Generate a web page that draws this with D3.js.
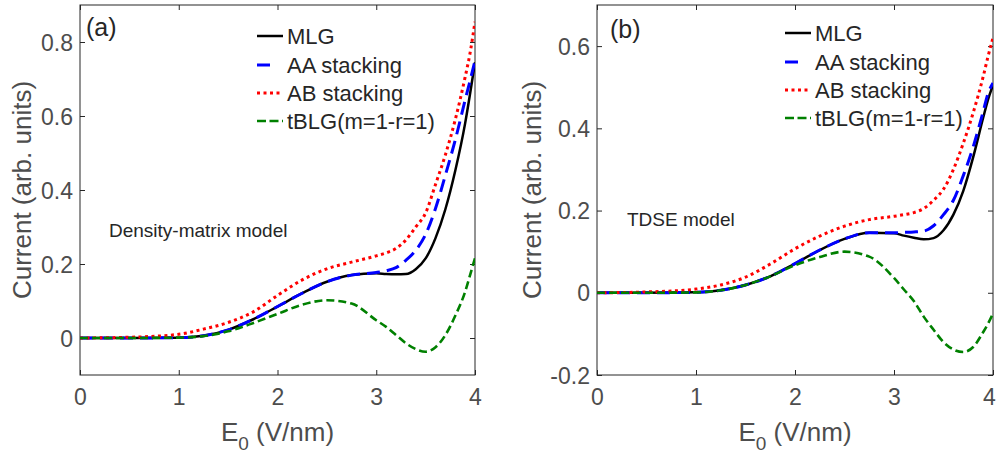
<!DOCTYPE html>
<html>
<head>
<meta charset="utf-8">
<script src="https://cdn.jsdelivr.net/npm/d3@7"></script>
<style>
  html, body { margin: 0; padding: 0; background: #fff; }
  svg { display: block; font-family: "Liberation Sans", Arial, sans-serif; }
</style>
</head>
<body>
<svg id="chart" width="998" height="458"></svg>
<script>
// ---- data ----
const E = [0, 0.5, 1.0, 1.25, 1.5, 1.75, 2.0, 2.25, 2.5, 2.75, 3.0, 3.1, 3.2, 3.3, 3.4, 3.5, 3.6, 3.7, 3.8, 3.9, 3.95, 4.0];

// panel (a) Density-matrix model
const mlgA  = [0, 0, 0.001, 0.006, 0.022, 0.05, 0.085, 0.121, 0.152, 0.170, 0.175, 0.173, 0.172, 0.173, 0.186, 0.215, 0.270, 0.348, 0.452, 0.580, 0.660, 0.745];
const aaA   = [0, 0, 0.001, 0.006, 0.022, 0.05, 0.085, 0.121, 0.152, 0.170, 0.177, 0.182, 0.190, 0.210, 0.237, 0.280, 0.350, 0.440, 0.535, 0.643, 0.695, 0.750];
const abA   = [0, 0.002, 0.010, 0.024, 0.042, 0.070, 0.115, 0.157, 0.187, 0.205, 0.222, 0.230, 0.242, 0.265, 0.300, 0.338, 0.415, 0.495, 0.590, 0.705, 0.770, 0.855];
const tblgA = [0, 0, 0.001, 0.005, 0.018, 0.040, 0.065, 0.090, 0.102, 0.093, 0.048, 0.030, 0.008, -0.014, -0.030, -0.037, -0.025, 0.008, 0.060, 0.125, 0.170, 0.216];

// panel (b) TDSE model
const mlgB  = [0, 0, 0.001, 0.006, 0.019, 0.040, 0.071, 0.104, 0.131, 0.146, 0.145, 0.139, 0.134, 0.130, 0.133, 0.152, 0.190, 0.248, 0.330, 0.425, 0.470, 0.505];
const aaB   = [0, 0, 0.001, 0.006, 0.019, 0.040, 0.071, 0.104, 0.131, 0.146, 0.146, 0.147, 0.148, 0.150, 0.163, 0.190, 0.225, 0.285, 0.355, 0.440, 0.485, 0.510];
const abB   = [0, 0.002, 0.009, 0.019, 0.038, 0.070, 0.107, 0.138, 0.162, 0.178, 0.186, 0.190, 0.195, 0.205, 0.225, 0.252, 0.300, 0.364, 0.438, 0.525, 0.575, 0.620];
const tblgB = [0, 0, 0.001, 0.006, 0.019, 0.040, 0.067, 0.087, 0.100, 0.088, 0.036, 0.008, -0.020, -0.058, -0.090, -0.120, -0.138, -0.144, -0.132, -0.096, -0.075, -0.050];

const seriesNames = ["MLG", "AA stacking", "AB stacking", "tBLG(m=1-r=1)"];
const xTicks = [0, 1, 2, 3, 4];
const yTicksA = [0, 0.2, 0.4, 0.6, 0.8];
const yTicksB = [-0.2, 0, 0.2, 0.4, 0.6];
const xDomain = [0, 4];
const yDomainA = [-0.1, 0.9];
const yDomainB = [-0.2, 0.7];
const panelLabels = ["(a)", "(b)"];
const modelLabels = ["Density-matrix model", "TDSE model"];
const yAxisTitle = "Current (arb. units)";

// ---- styles ----
const styles = [
  { color: "#000000", width: 2.5, dash: null,     legendDash: null },
  { color: "#0000ff", width: 3,   dash: "13,7",   legendDash: "13,20" },
  { color: "#ff0000", width: 3,   dash: "3,3.5",  legendDash: "3,3.5" },
  { color: "#008000", width: 2.6, dash: "8,4",    legendDash: "9,3.5" }
];

const svg = d3.select("#chart");

const panels = [
  { id: "a", left: 80, right: 475, top: 5, bottom: 375, yDomain: yDomainA, yTicks: yTicksA,
    data: [mlgA, aaA, abA, tblgA], label: panelLabels[0], model: modelLabels[0],
    labelPos: [86, 36], modelPos: [109, 237], legendX: 257, legendY: [36, 65, 93, 121], yTitleX: 22, lastTickShift: 0 },
  { id: "b", left: 597, right: 993, top: 5, bottom: 375, yDomain: yDomainB, yTicks: yTicksB,
    data: [mlgB, aaB, abB, tblgB], label: panelLabels[1], model: modelLabels[1],
    labelPos: [610, 38], modelPos: [627, 226], legendX: 785, legendY: [33, 62, 90, 118], yTitleX: 532, lastTickShift: -4 }
];

const fmt = d => d === 0 ? "0" : d3.format(".1f")(d).replace("\u2212", "-");
const axisColor = "#262626";
const tickTextColor = "#4d4d4d";

panels.forEach(p => {
  const x = d3.scaleLinear().domain(xDomain).range([p.left, p.right]);
  const y = d3.scaleLinear().domain(p.yDomain).range([p.bottom, p.top]);
  const g = svg.append("g");

  // clip
  svg.append("clipPath").attr("id", "clip-" + p.id)
    .append("rect").attr("x", p.left).attr("y", p.top)
    .attr("width", p.right - p.left).attr("height", p.bottom - p.top);

  // axes (inner ticks)
  const tk = 5;
  const bottomAxis = d3.axisBottom(x).tickValues(xTicks).tickSizeInner(-tk).tickSizeOuter(0).tickFormat(d => d);
  const topAxis = d3.axisTop(x).tickValues(xTicks).tickSizeInner(-tk).tickSizeOuter(0).tickFormat("");
  const leftAxis = d3.axisLeft(y).tickValues(p.yTicks).tickSizeInner(-tk).tickSizeOuter(0).tickFormat(fmt);
  const rightAxis = d3.axisRight(y).tickValues(p.yTicks).tickSizeInner(-tk).tickSizeOuter(0).tickFormat("");

  const gb = g.append("g").attr("transform", `translate(0,${p.bottom})`).call(bottomAxis);
  const gt = g.append("g").attr("transform", `translate(0,${p.top})`).call(topAxis);
  const gl = g.append("g").attr("transform", `translate(${p.left},0)`).call(leftAxis);
  const gr = g.append("g").attr("transform", `translate(${p.right},0)`).call(rightAxis);
  [gb, gt, gl, gr].forEach(a => {
    a.select(".domain").remove();
    a.selectAll(".tick line").attr("stroke", axisColor).attr("stroke-width", 1);
    a.selectAll(".tick text").attr("fill", tickTextColor).attr("font-size", "23px")
      .attr("font-family", "'Liberation Sans', Arial, sans-serif");
  });
  gb.selectAll(".tick text").attr("y", 14).attr("dy", "0.71em")
    .attr("x", d => d === xDomain[1] ? p.lastTickShift : 0);
  gl.selectAll(".tick text").attr("x", -7).attr("dy", "0.35em");

  // box
  g.append("rect").attr("x", p.left).attr("y", p.top)
    .attr("width", p.right - p.left).attr("height", p.bottom - p.top)
    .attr("fill", "none").attr("stroke", axisColor).attr("stroke-width", 1);

  // curves
  const line = d3.line().x((d, i) => x(E[i])).y(d => y(d)).curve(d3.curveMonotoneX);
  const cg = g.append("g").attr("clip-path", `url(#clip-${p.id})`);
  p.data.forEach((arr, k) => {
    const s = styles[k];
    cg.append("path").datum(arr).attr("d", line)
      .attr("fill", "none").attr("stroke", s.color).attr("stroke-width", s.width)
      .attr("stroke-dasharray", s.dash);
  });

  // legend
  seriesNames.forEach((name, k) => {
    const s = styles[k];
    const ly = p.legendY[k];
    g.append("line").attr("x1", p.legendX).attr("x2", p.legendX + 26)
      .attr("y1", ly).attr("y2", ly)
      .attr("stroke", s.color).attr("stroke-width", s.width)
      .attr("stroke-dasharray", s.legendDash);
    g.append("text").attr("x", p.legendX + 30).attr("y", ly).attr("dy", "0.35em")
      .attr("font-size", "22px").attr("fill", "#262626").text(name);
  });

  // panel label
  g.append("text").attr("x", p.labelPos[0]).attr("y", p.labelPos[1])
    .attr("font-size", "25px").attr("fill", "#262626").text(p.label);

  // model label
  g.append("text").attr("x", p.modelPos[0]).attr("y", p.modelPos[1])
    .attr("font-size", "19px").attr("fill", "#262626").text(p.model);

  // x axis title
  const xt = g.append("text").attr("x", (p.left + p.right) / 2).attr("y", 441)
    .attr("text-anchor", "middle").attr("font-size", "26px").attr("fill", tickTextColor);
  xt.append("tspan").text("E");
  xt.append("tspan").attr("font-size", "19px").attr("dy", 9).text("0");
  xt.append("tspan").attr("dy", -9).text(" (V/nm)");

  // y axis title
  g.append("text")
    .attr("transform", `translate(${p.yTitleX},${(p.top + p.bottom) / 2}) rotate(-90)`)
    .attr("text-anchor", "middle").attr("dy", "0.35em")
    .attr("font-size", "26px").attr("fill", tickTextColor).text(yAxisTitle);
});
</script>
</body>
</html>
